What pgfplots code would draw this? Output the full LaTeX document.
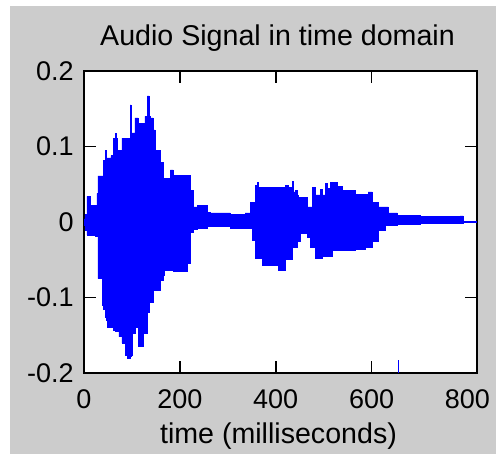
\documentclass[border=0pt]{standalone}
\usepackage{pgfplots}
\pgfplotsset{compat=1.18}
\usepackage{pgfplotstable}
\usetikzlibrary{backgrounds}
\usepackage{fontspec}
\setmainfont{Liberation Sans}
\definecolor{figgray}{RGB}{204,204,204}
\definecolor{sigblue}{RGB}{0,0,255}

\pgfplotstableread{
t hi lo
0 0.004 -0.004
2 0.010 -0.011
6 0.034 -0.017
13 0.022 -0.017
23 0.022 -0.019
27 0.038 -0.019
29 0.061 -0.075
38 0.061 -0.110
40 0.082 -0.115
44 0.095 -0.126
46 0.082 -0.130
48 0.085 -0.139
56 0.088 -0.139
61 0.111 -0.143
65 0.117 -0.145
67 0.111 -0.145
69 0.095 -0.145
71 0.095 -0.076
73 0.095 -0.152
79 0.111 -0.160
86 0.111 -0.176
90 0.111 -0.180
96 0.155 -0.178
98 0.118 -0.176
100 0.118 -0.147
106 0.138 -0.140
113 0.131 -0.165
123 0.131 -0.148
127 0.140 -0.148
132 0.167 -0.120
136 0.140 -0.100
138 0.138 -0.107
144 0.122 -0.090
148 0.095 -0.090
159 0.079 -0.077
165 0.056 -0.070
167 0.058 -0.064
180 0.069 -0.064
186 0.062 -0.065
215 0.062 -0.055
221 0.042 -0.013
228 0.020 -0.010
236 0.022 -0.008
257 0.013 -0.006
263 0.012 -0.006
305 0.010 -0.008
336 0.012 -0.008
347 0.026 -0.008
351 0.026 -0.024
357 0.048 -0.048
361 0.052 -0.048
363 0.046 -0.048
372 0.046 -0.058
405 0.046 -0.064
420 0.048 -0.050
426 0.046 -0.050
434 0.054 -0.034
436 0.040 -0.034
441 0.042 -0.034
445 0.036 -0.026
447 0.033 -0.026
451 0.033 -0.015
466 0.020 -0.020
472 0.020 -0.034
476 0.046 -0.034
482 0.036 -0.048
493 0.043 -0.048
497 0.036 -0.046
503 0.051 -0.046
507 0.045 -0.046
514 0.052 -0.046
518 0.052 -0.038
528 0.047 -0.038
539 0.042 -0.038
566 0.037 -0.036
587 0.037 -0.034
593 0.040 -0.034
601 0.026 -0.026
614 0.020 -0.011
628 0.020 -0.004
635 0.012 -0.004
654 0.009 -0.003
702 0.007 -0.002
785 0.008 -0.002
791 0.001 -0.001
820 0.001 -0.001
}\sig

\begin{document}
\begin{tikzpicture}
\begin{axis}[
  at={(0,0)}, anchor=south west,
  scale only axis, width=196.5pt, height=151pt,
  xmin=0, xmax=820, ymin=-0.2, ymax=0.2,
  axis background/.style={fill=white},
  axis line style={black, line width=0.9pt},
  tick align=inside, major tick length=6pt,
  tick style={black, line width=0.8pt},
  xtick={200,400,600}, xticklabels={200,400,600},
  extra x ticks={0,800}, extra x tick labels={0,800},
  extra x tick style={major tick length=0pt},
  ytick={-0.2,-0.1,0,0.1,0.2}, yticklabels={-0.2,-0.1,0,0.1,0.2},
  xticklabel style={font=\fontsize{13.5}{15}\selectfont, anchor=base, inner sep=0pt, yshift=-17.5pt},
  yticklabel style={font=\fontsize{13.5}{15}\selectfont, anchor=east, inner sep=0pt, xshift=-5pt},
  title={Audio Signal in time domain},
  title style={font=\fontsize{14.3}{16}\selectfont, at={(0.5,1)}, anchor=base, inner sep=0pt, yshift=7pt, xshift=-1.5pt},
  xlabel={time (milliseconds)},
  xlabel style={font=\fontsize{14.3}{16}\selectfont, at={(0.5,0)}, anchor=base, inner sep=0pt, yshift=-35pt, xshift=-1pt},
]
\addplot[const plot, fill=sigblue, draw=sigblue, line width=0.3pt] table[x=t, y=hi] {\sig} \closedcycle;
\addplot[const plot, fill=sigblue, draw=sigblue, line width=0.3pt] table[x=t, y=lo] {\sig} \closedcycle;
\addplot[sigblue, line width=0.8pt] coordinates {(656,-0.2) (656,-0.183)};
\end{axis}
\begin{pgfonlayer}{background}
\fill[white] (-42pt,-40.5pt) rectangle (206pt,186.5pt);
\fill[figgray] (-37pt,-40.5pt) rectangle (206pt,183.5pt);
\end{pgfonlayer}
\pgfresetboundingbox
\useasboundingbox (-42pt,-40.5pt) rectangle (206pt,186.5pt);
\end{tikzpicture}
\end{document}
